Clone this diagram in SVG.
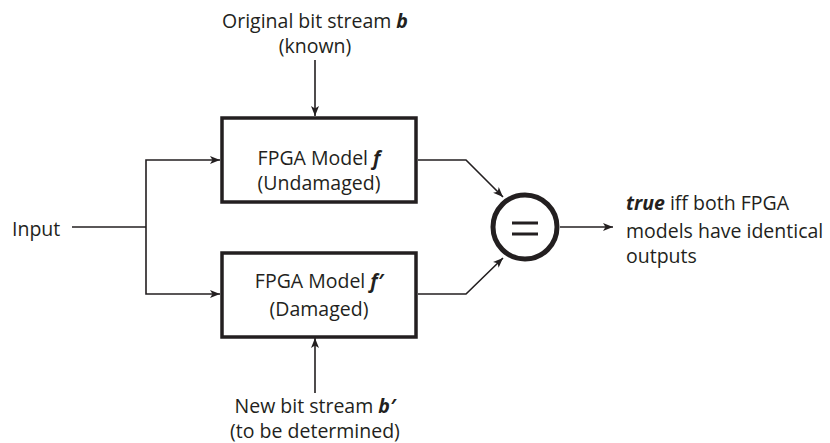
<svg xmlns="http://www.w3.org/2000/svg" width="830" height="443" viewBox="0 0 830 443">
  <defs>
    <marker id="arrow" viewBox="0 0 10 10" refX="10" refY="5" markerWidth="10" markerHeight="10" markerUnits="userSpaceOnUse" orient="auto">
      <path d="M0,1 L10,5 L0,9 L2.5,5 z" fill="#231f20"/>
    </marker>
    <style>
      text { font-family: "Open Sans", "Noto Sans", sans-serif; font-size: 19.5px; fill: #231f20; }
      .c { text-anchor: middle; }
      .b { font-weight: bold; font-style: italic; }
      .box { fill: #fff; stroke: #231f20; stroke-width: 3.5; }
      .wire { fill: none; stroke: #231f20; stroke-width: 1.6; }
      .arr { marker-end: url(#arrow); }
    </style>
  </defs>
  <rect width="830" height="443" fill="#fff"/>

  <g id="connectors">
    <path class="wire arr" d="M315,60 V116"/>
    <path class="wire arr" d="M315,393 V338"/>
    <path class="wire" d="M72,227 H146"/>
    <path class="wire arr" d="M146,227 V160 H220"/>
    <path class="wire arr" d="M146,227 V294 H220"/>
    <path class="wire arr" d="M418,160 H466 L503,197"/>
    <path class="wire arr" d="M418,294 H466 L503,258"/>
    <path class="wire arr" d="M560,227 H613"/>
  </g>

  <g id="label-b">
    <text class="c" x="315" y="28">Original bit stream <tspan class="b">b</tspan></text>
    <text class="c" x="315" y="53">(known)</text>
  </g>

  <g id="label-input">
    <text x="12" y="236">Input</text>
  </g>

  <g id="model-f">
    <rect class="box" x="222" y="118" width="194" height="84"/>
    <text class="c" x="319" y="165">FPGA Model <tspan class="b">f</tspan></text>
    <text class="c" x="319" y="190">(Undamaged)</text>
  </g>

  <g id="model-f-prime">
    <rect class="box" x="222" y="253" width="194" height="84"/>
    <text class="c" x="319" y="288">FPGA Model <tspan class="b">f′</tspan></text>
    <text class="c" x="319" y="316">(Damaged)</text>
  </g>

  <g id="compare">
    <circle cx="525" cy="227" r="32" fill="#fff" stroke="#231f20" stroke-width="5"/>
    <path d="M512,223 H538 M512,234 H538" stroke="#231f20" stroke-width="3" fill="none"/>
  </g>

  <g id="label-output">
    <text x="626" y="210"><tspan class="b">true</tspan> iff both FPGA</text>
    <text x="626" y="238">models have identical</text>
    <text x="626" y="263">outputs</text>
  </g>

  <g id="label-b-prime">
    <text class="c" x="315" y="413">New bit stream <tspan class="b">b′</tspan></text>
    <text class="c" x="315" y="438">(to be determined)</text>
  </g>
</svg>
